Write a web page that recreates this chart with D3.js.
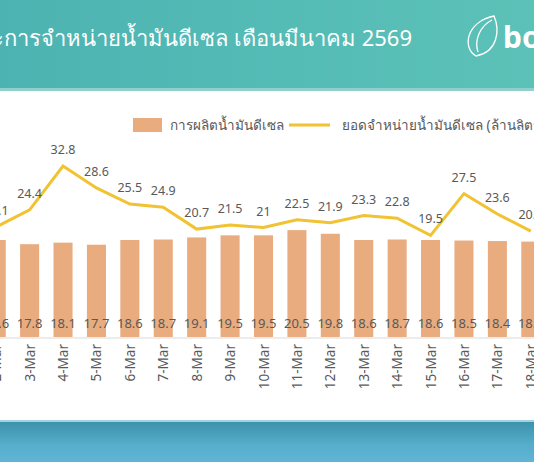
<!DOCTYPE html>
<html>
<head>
<meta charset="utf-8"/>
<script src="https://d3js.org/d3.v7.min.js"></script>
<style>
  body { margin: 0; background: #fff; overflow: hidden; }
  text { font-family: "Noto Sans", "Open Sans", sans-serif; }
</style>
</head>
<body>
<div id="chart"></div>
<script>
// data (the image is cropped: 2-Mar and 18-Mar are only partly visible)
var days = ["2-Mar","3-Mar","4-Mar","5-Mar","6-Mar","7-Mar","8-Mar","9-Mar","10-Mar","11-Mar","12-Mar","13-Mar","14-Mar","15-Mar","16-Mar","17-Mar","18-Mar"];
var production = [18.6,17.8,18.1,17.7,18.6,18.7,19.1,19.5,19.5,20.5,19.8,18.6,18.7,18.6,18.5,18.4,18.3];
var sales = [21.1,24.4,32.8,28.6,25.5,24.9,20.7,21.5,21,22.5,21.9,23.3,22.8,19.5,27.5,23.6,20.3];

var W = 534, H = 462;
var svg = d3.select("#chart").append("svg").attr("width", W).attr("height", H);
var defs = svg.append("defs");

var gTop = defs.append("linearGradient").attr("id", "gtop").attr("x1", 0).attr("x2", 1);
gTop.append("stop").attr("offset", 0).attr("stop-color", "#4cb3b2");
gTop.append("stop").attr("offset", 1).attr("stop-color", "#5cc2b8");
var gBot = defs.append("linearGradient").attr("id", "gbot").attr("x1", 0).attr("x2", 0).attr("y1", 0).attr("y2", 1);
gBot.append("stop").attr("offset", 0).attr("stop-color", "#3b8fa8");
gBot.append("stop").attr("offset", 0.6).attr("stop-color", "#55aecb");
gBot.append("stop").attr("offset", 1).attr("stop-color", "#61b4d6");

// header band
svg.append("rect").attr("width", W).attr("height", 89).attr("fill", "url(#gtop)");
svg.append("rect").attr("y", 88).attr("width", W).attr("height", 3).attr("fill", "#8fd0cc");
svg.append("text").attr("x", 412).attr("y", 46).attr("text-anchor", "end")
  .attr("fill", "#fff").style("font-size", "22px")
  .text("ปริมาณการผลิตและการจำหน่ายน้ำมันดีเซล เดือนมีนาคม 2569");
// logo
var logo = svg.append("g").attr("fill", "none").attr("stroke", "#fff").attr("stroke-width", 1.3);
logo.append("path").attr("d", "M476,56 C462,48 466,22 494,16 C500,30 498,52 476,56 Z");
logo.append("path").attr("d", "M478,52 C474,40 480,26 492,20");
svg.append("text").attr("x", 503).attr("y", 48).attr("fill", "#fff")
  .style("font-size", "30px").style("font-weight", "bold").text("bo");

// bottom band
svg.append("rect").attr("y", 420).attr("width", W).attr("height", 42).attr("fill", "url(#gbot)");
svg.append("rect").attr("y", 420).attr("width", W).attr("height", 2).attr("fill", "#9fd3e3");

// scales
var x = d3.scaleBand().domain(days).range([-20, 547]).paddingInner(0.43).paddingOuter(0.2);
var y = d3.scaleLinear().domain([0, 32.8]).range([337, 166]);

// axis line
svg.append("line").attr("x1", 0).attr("x2", W).attr("y1", 338).attr("y2", 338)
  .attr("stroke", "#d9d9d9");

// bars
svg.selectAll(".bar").data(production).enter().append("rect")
  .attr("x", function(d, i) { return x(days[i]); })
  .attr("width", x.bandwidth())
  .attr("y", function(d) { return y(d); })
  .attr("height", function(d) { return y(0) - y(d); })
  .attr("fill", "#e8ac7f");
svg.selectAll(".blab").data(production).enter().append("text")
  .attr("x", function(d, i) { return x(days[i]) + x.bandwidth() / 2; })
  .attr("y", 328).attr("text-anchor", "middle")
  .attr("fill", "#595959").style("font-size", "13px")
  .text(function(d) { return d; });

// line
var cx = function(i) { return x(days[i]) + x.bandwidth() / 2; };
var line = d3.line().x(function(d, i) { return cx(i); }).y(function(d) { return y(d); });
svg.append("path").datum(sales).attr("d", line)
  .attr("fill", "none").attr("stroke", "#f1c232").attr("stroke-width", 3);
svg.selectAll(".llab").data(sales).enter().append("text")
  .attr("x", function(d, i) { return cx(i); })
  .attr("y", function(d) { return y(d) - 12; }).attr("text-anchor", "middle")
  .attr("fill", "#595959").style("font-size", "12.5px")
  .text(function(d) { return d; });

// x labels
svg.selectAll(".xlab").data(days).enter().append("text")
  .attr("transform", function(d, i) { return "translate(" + (cx(i) + 5) + ",344) rotate(-90)"; })
  .attr("text-anchor", "end")
  .attr("fill", "#595959").style("font-size", "13.5px")
  .text(function(d) { return d; });

// legend
svg.append("rect").attr("x", 133).attr("y", 118).attr("width", 29).attr("height", 14).attr("fill", "#e8ac7f");
svg.append("text").attr("x", 170).attr("y", 130).attr("fill", "#595959").style("font-size", "13.5px")
  .text("การผลิตน้ำมันดีเซล");
svg.append("line").attr("x1", 289).attr("x2", 330).attr("y1", 125).attr("y2", 125)
  .attr("stroke", "#f1c232").attr("stroke-width", 3);
svg.append("text").attr("x", 342).attr("y", 130).attr("fill", "#595959").style("font-size", "13.5px")
  .text("ยอดจำหน่ายน้ำมันดีเซล (ล้านลิตร/วัน)");
</script>
</body>
</html>
